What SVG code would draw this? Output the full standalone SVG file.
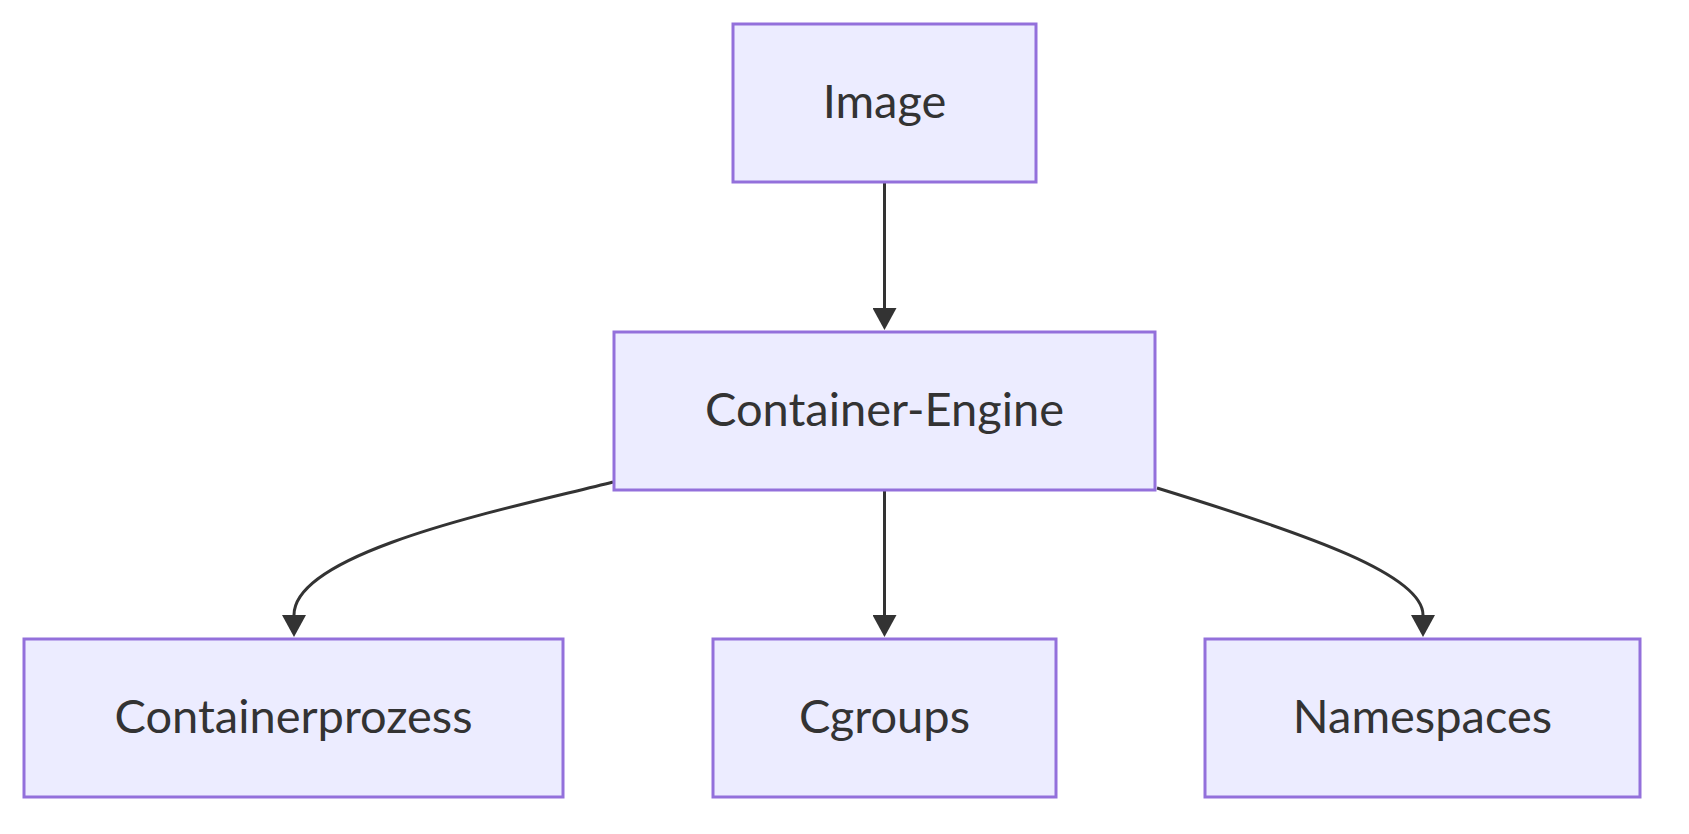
<svg xmlns="http://www.w3.org/2000/svg" width="1689" height="834" viewBox="0 0 1689 834">
<defs>
<style>
.node rect{fill:#ECECFF;stroke:#9370DB;stroke-width:3}
.node text{font-family:Lato,"Open Sans","Liberation Sans",sans-serif;font-size:47px;fill:#333333;text-anchor:middle}
.edge{fill:none;stroke:#333333;stroke-width:3;marker-end:url(#arrow)}
</style>
<marker id="arrow" markerUnits="userSpaceOnUse" markerWidth="24" markerHeight="24" viewBox="0 0 22 24" refX="15" refY="12" orient="auto">
<path d="M0,0 L22,12 L0,24 z" fill="#333333"/>
</marker>
</defs>
<rect width="1689" height="834" fill="#ffffff"/>
<g id="connectors">
<path class="edge" d="M884.5,183 L884.5,323"/>
<path class="edge" d="M884.5,491 L884.5,630"/>
<path class="edge" d="M613,482 C520,506 294,550 294,615 L294,630"/>
<path class="edge" d="M1157,488 C1310,535 1423,575 1423,615 L1423,630"/>
</g>
<g id="node-image" class="node">
<rect x="733" y="24" width="303" height="158"/>
<text x="884.5" y="118">Image</text>
</g>
<g id="node-engine" class="node">
<rect x="614" y="332" width="541" height="158"/>
<text x="884.5" y="426">Container-Engine</text>
</g>
<g id="node-prozess" class="node">
<rect x="24" y="639" width="539" height="158"/>
<text x="293.5" y="733">Containerprozess</text>
</g>
<g id="node-cgroups" class="node">
<rect x="713" y="639" width="343" height="158"/>
<text x="884.5" y="733">Cgroups</text>
</g>
<g id="node-namespaces" class="node">
<rect x="1205" y="639" width="435" height="158"/>
<text x="1422.5" y="733">Namespaces</text>
</g>
</svg>
